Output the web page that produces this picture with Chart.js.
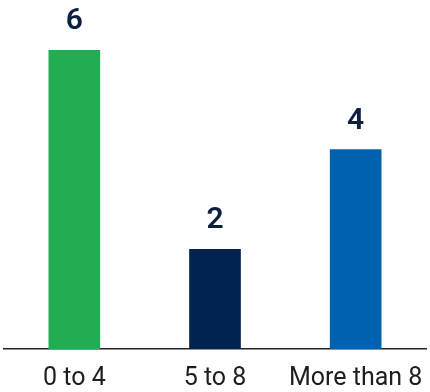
<!DOCTYPE html>
<html lang="en">
<head>
  <meta charset="UTF-8">
  <title>Bar chart</title>
  <script src="https://cdn.jsdelivr.net/npm/chart.js"></script>
  <style>
    body {
      margin: 0;
      background: #fff;
    }
    .wrap {
      width: 430px;
      height: 392px;
    }
  </style>
</head>
<body>
  <div class="wrap"><canvas id="grafico"></canvas></div>

  <script>
const categorias = ['0 to 4', '5 to 8', 'More than 8'];
const valores = [6, 2, 4];
const cores = ['#22AD52', '#01234F', '#0062AF'];

// value labels above each bar
const rotulos = {
  id: 'rotulos',
  afterDatasetsDraw(chart) {
    const ctx = chart.ctx;
    const meta = chart.getDatasetMeta(0);
    ctx.save();
    ctx.font = '600 30px Roboto';
    ctx.fillStyle = '#0B1F3F';
    ctx.textAlign = 'center';
    ctx.textBaseline = 'alphabetic';
    meta.data.forEach((bar, i) => {
      ctx.fillText(String(valores[i]), bar.x, bar.y - 21);
    });
    ctx.restore();
  }
};

new Chart(document.getElementById('grafico').getContext('2d'), {
  type: 'bar',
  data: {
    labels: categorias,
    datasets: [{
      data: valores,
      backgroundColor: cores,
      barThickness: 51
    }]
  },
  options: {
    responsive: true,
    maintainAspectRatio: false,
    animation: false,
    layout: { padding: { left: 4, right: 4, top: 50, bottom: 0 } },
    plugins: {
      legend: { display: false },
      tooltip: { enabled: false }
    },
    scales: {
      x: {
        afterFit: (s) => {
          s.height = 43;
          s.paddingLeft = 0;
          s.paddingRight = 0;
        },
        grid: { display: false, drawTicks: false },
        border: { display: true, color: '#222', width: 1.5 },
        ticks: {
          color: '#1E1E1E',
          padding: 15,
          font: { family: 'Roboto', size: 25 }
        }
      },
      y: {
        display: false,
        min: 0,
        max: 6
      }
    }
  },
  plugins: [rotulos]
});
</script>
</body>
</html>
